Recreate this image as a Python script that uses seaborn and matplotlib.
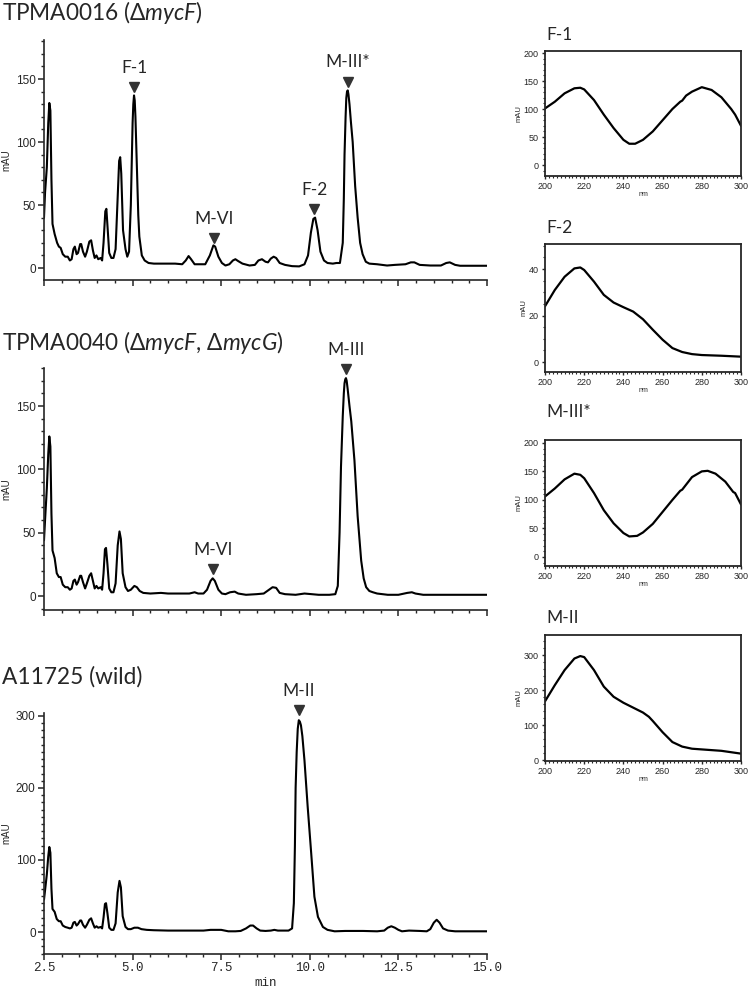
import numpy as np
import pandas as pd
import matplotlib
matplotlib.use("Agg")
import matplotlib.pyplot as plt
from matplotlib.ticker import MultipleLocator
import seaborn as sns

sns.set_style("ticks")
plt.rcParams['font.family'] = ['Lato', 'DejaVu Sans']
plt.rcParams['mathtext.fontset'] = 'custom'
plt.rcParams['mathtext.rm'] = 'Lato'
plt.rcParams['mathtext.it'] = 'Lato:italic'

# ---------------- chromatogram data (retention time [min], absorbance [mAU]) ----------------
t1 = [2.50, 2.53, 2.58, 2.62, 2.65, 2.68, 2.71, 2.74, 2.80, 2.87, 2.92, 2.97, 3.03, 3.10, 3.17, 3.23,
      3.28, 3.33, 3.37, 3.42, 3.46, 3.52, 3.55, 3.60, 3.66, 3.71, 3.78, 3.83, 3.88, 3.93, 3.98, 4.03,
      4.10, 4.14, 4.18, 4.23, 4.26, 4.30, 4.34, 4.40, 4.46, 4.52, 4.57, 4.62, 4.65, 4.68, 4.73, 4.80,
      4.85, 4.90, 4.95, 4.98, 5.00, 5.02, 5.04, 5.06, 5.08, 5.10, 5.13, 5.16, 5.19, 5.26, 5.34, 5.45,
      5.60, 5.90, 6.20, 6.40, 6.50, 6.58, 6.65, 6.75, 6.90, 7.05, 7.18, 7.28, 7.33, 7.42, 7.52, 7.62,
      7.73, 7.83, 7.90, 7.98, 8.10, 8.30, 8.45, 8.55, 8.65, 8.75, 8.82, 8.90, 8.98, 9.05, 9.15, 9.30,
      9.50, 9.70, 9.85, 9.95, 10.03, 10.10, 10.15, 10.22, 10.30, 10.40, 10.50, 10.65, 10.75, 10.85,
      10.93, 10.96, 10.98, 11.01, 11.03, 11.05, 11.07, 11.09, 11.12, 11.16, 11.21, 11.28, 11.35, 11.42,
      11.49, 11.58, 11.68, 11.90, 12.18, 12.40, 12.70, 12.85, 12.95, 13.10, 13.40, 13.70, 13.85, 13.95,
      14.10, 14.24, 14.60, 15.00]
a1 = [40, 60, 80, 115, 131, 125, 70, 35, 27, 20, 17, 16, 11, 9, 9, 6,
      7, 15, 17, 11, 12, 19, 19, 13, 9, 13, 21, 22, 14, 8, 10, 7,
      8, 6, 20, 45, 47, 30, 12, 8, 8, 15, 50, 85, 88, 75, 30, 15,
      9, 13, 50, 90, 115, 130, 137, 133, 120, 100, 70, 42, 25, 10, 6, 4,
      3.5, 3.5, 3.5, 3, 6, 9.5, 7, 3, 3, 3, 10, 18, 17, 9, 4, 2,
      3, 6, 7, 5.5, 3.5, 2, 2.5, 6, 7, 5, 4.5, 7.5, 9, 8, 4, 2.5,
      1.5, 1.3, 3, 10, 28, 39, 40, 30, 13, 6, 4, 3.5, 4, 4,
      20, 55, 90, 120, 135, 140, 141, 138, 130, 116, 100, 65, 40, 20,
      11, 5, 3.5, 3, 2, 2.5, 3, 4.5, 4.5, 2.5, 2, 2, 4, 4.5,
      2.5, 1.8, 1.8, 1.8]

t2 = [2.50, 2.53, 2.58, 2.62, 2.65, 2.68, 2.71, 2.74, 2.80, 2.86, 2.92, 2.97, 3.03, 3.10, 3.17, 3.23,
      3.28, 3.33, 3.37, 3.42, 3.46, 3.52, 3.55, 3.60, 3.66, 3.71, 3.78, 3.83, 3.88, 3.93, 3.98, 4.03,
      4.10, 4.14, 4.18, 4.22, 4.25, 4.29, 4.34, 4.40, 4.46, 4.52, 4.58, 4.63, 4.67, 4.72, 4.80, 4.87,
      4.95, 5.05, 5.12, 5.20, 5.30, 5.50, 5.80, 6.00, 6.30, 6.60, 6.75, 6.85, 7.00, 7.10, 7.20, 7.26,
      7.32, 7.42, 7.52, 7.62, 7.75, 7.88, 7.98, 8.20, 8.50, 8.70, 8.85, 8.95, 9.05, 9.15, 9.30, 9.60,
      9.85, 10.05, 10.25, 10.55, 10.72, 10.79, 10.84, 10.88, 10.93, 10.96, 10.98, 11.00, 11.02, 11.04,
      11.07, 11.12, 11.17, 11.26, 11.35, 11.45, 11.52, 11.59, 11.68, 11.78, 11.90, 12.20, 12.50, 12.75,
      12.88, 12.98, 13.20, 15.00]
a2 = [44, 60, 85, 112, 126, 118, 65, 36, 30, 18, 15, 15, 9, 7, 7, 5,
      6, 12, 13, 9, 11, 16, 16, 11, 6, 10, 16, 18, 12, 6, 8, 6,
      7, 5, 18, 37, 38, 25, 6, 3, 3, 10, 40, 51, 45, 18, 7, 4,
      5, 8, 7, 4, 2.5, 2, 2.5, 2, 2, 2, 3, 2, 2, 5, 12, 14,
      12, 5, 2, 1.5, 3, 3.5, 2, 1, 1.5, 2, 5, 7, 6.5, 2.5, 1.5, 1,
      2, 1.5, 1, 1, 1.5, 8, 50, 102, 142, 160, 168, 171, 172, 170,
      163, 150, 138, 107, 63, 28, 14, 7, 4, 3, 2, 1, 1, 2.5,
      3, 2, 1, 1]

t3 = [2.50, 2.53, 2.58, 2.62, 2.65, 2.68, 2.71, 2.74, 2.80, 2.86, 2.92, 2.97, 3.03, 3.10, 3.17, 3.23,
      3.28, 3.33, 3.37, 3.42, 3.46, 3.52, 3.55, 3.60, 3.66, 3.71, 3.78, 3.83, 3.88, 3.93, 3.98, 4.03,
      4.10, 4.14, 4.18, 4.22, 4.25, 4.29, 4.34, 4.40, 4.46, 4.52, 4.58, 4.63, 4.67, 4.72, 4.80, 4.87,
      4.95, 5.05, 5.15, 5.25, 5.40, 5.60, 6.00, 6.50, 7.00, 7.20, 7.50, 7.70, 7.90, 8.05, 8.20, 8.32,
      8.40, 8.50, 8.60, 8.75, 8.90, 9.00, 9.10, 9.20, 9.40, 9.50, 9.55, 9.58, 9.60, 9.63, 9.66, 9.69,
      9.72, 9.75, 9.79, 9.85, 9.94, 10.04, 10.13, 10.23, 10.37, 10.50, 10.70, 11.00, 11.50, 11.90,
      12.10, 12.20, 12.30, 12.40, 12.50, 12.60, 12.80, 13.10, 13.30, 13.40, 13.50, 13.58, 13.66, 13.76,
      13.90, 14.10, 15.00]
a3 = [45, 58, 80, 105, 118, 110, 60, 32, 28, 18, 15, 15, 9, 7, 6, 5,
      6, 13, 14, 9, 11, 16, 16, 10, 6, 10, 17, 19, 12, 6, 8, 6,
      7, 5, 20, 39, 40, 26, 6, 3, 3, 12, 55, 71, 62, 22, 7, 4,
      4, 6, 6, 4, 3, 2.5, 2, 2, 2, 3, 3, 1, 1, 1.5, 5, 9,
      9, 5, 2, 1.5, 2, 3, 2, 2, 2, 5, 40, 120, 200, 250, 282, 294,
      292, 287, 272, 238, 174, 109, 49, 21, 7, 3, 1, 1.5, 1.5, 1,
      2, 6, 8, 6, 3, 1, 2, 1.5, 1, 4, 13, 17, 13, 5,
      2, 1, 1]

# ---------------- UV spectra data (wavelength [nm], absorbance [mAU]) ----------------
wl_f1 = [200, 205, 210, 215, 218, 220, 225, 230, 235, 240, 243, 246, 250, 255, 260, 265, 269, 270,
         272, 275, 280, 285, 290, 295, 297, 300]
ab_f1 = [101, 113, 128, 137, 138, 135, 116, 90, 66, 45, 38, 38, 45, 60, 80, 100, 113, 115,
         124, 131, 139, 134, 121, 100, 90, 70]
wl_f2 = [200, 205, 210, 215, 218, 220, 225, 230, 235, 240, 245, 250, 255, 260, 265, 270, 275, 280,
         290, 300]
ab_f2 = [24, 31, 36.7, 40.3, 40.7, 39.6, 34.6, 28.9, 25.6, 23.6, 21.7, 18.4, 13.9, 9.6, 6, 4.3, 3.4, 3,
         2.7, 2.3]
wl_m3 = [200, 205, 210, 215, 218, 220, 225, 230, 235, 240, 243, 247, 250, 255, 260, 265, 269, 270,
         275, 280, 283, 287, 292, 296, 297, 300]
ab_m3 = [106, 120, 136, 146, 144, 138, 112, 82, 59, 42, 36, 37, 43, 58, 79, 100, 116, 118,
         140, 150, 151, 146, 132, 114, 112, 92]
wl_m2 = [200, 205, 210, 215, 218, 220, 225, 230, 235, 240, 245, 250, 253, 255, 260, 265, 270, 275,
         280, 290, 300]
ab_m2 = [168, 214, 257, 290, 297, 294, 257, 210, 181, 164, 150, 136, 124, 112, 80, 52, 39, 33,
         31, 27, 19]

titles = ["TPMA0016 (Δ$\\mathit{mycF}$)",
          "TPMA0040 (Δ$\\mathit{mycF}$, Δ$\\mathit{mycG}$)",
          "A11725 (wild)"]
peak_names = [["F-1", "M-VI", "F-2", "M-III*"], ["M-VI", "M-III"], ["M-II"]]
peak_times = [[5.05, 7.30, 10.12, 11.07], [7.26, 11.01], [9.69]]
peak_marks = [[144, 24, 47, 148], [21, 179], [308]]
spec_titles = ["F-1", "F-2", "M-III*", "M-II"]

# ---------------- figure ----------------
W, H = 750, 990
fig = plt.figure(figsize=(W / 100, H / 100), dpi=100)


def px_axes(l, t, r, b):
    return fig.add_axes([l / W, 1 - b / H, (r - l) / W, (b - t) / H])


chrom_boxes = [(44, 40, 487, 280), (44, 368, 487, 610), (44, 713, 487, 954)]
chrom_ylims = [(-9.5, 181), (-11, 180), (-30.5, 304)]
chrom_title_y = [13, 343, 677]
chrom_data = [(t1, a1), (t2, a2), (t3, a3)]
ytick_major = [50, 50, 100]

tick_font = ['Liberation Sans Narrow', 'Liberation Sans', 'DejaVu Sans']
mono_font = ['Liberation Mono', 'DejaVu Sans Mono']

for i in range(3):
    ax = px_axes(*chrom_boxes[i])
    tt, aa = chrom_data[i]
    df = pd.DataFrame({"min": tt, "mAU": aa})
    sns.lineplot(data=df, x="min", y="mAU", ax=ax, color="black", lw=1.5,
                 estimator=None, sort=False)
    ax.set_xlim(2.5, 15.0)
    ax.set_ylim(*chrom_ylims[i])
    sns.despine(ax=ax)
    for s in ("left", "bottom"):
        ax.spines[s].set_linewidth(1.2)
    ax.xaxis.set_major_locator(MultipleLocator(2.5))
    ax.xaxis.set_minor_locator(MultipleLocator(0.5))
    ax.yaxis.set_minor_locator(MultipleLocator(10))
    ax.set_yticks(np.arange(0, chrom_ylims[i][1], ytick_major[i]))
    ax.tick_params(axis="both", which="major", direction="out", length=4, width=1.1, pad=2)
    ax.tick_params(axis="both", which="minor", direction="out", length=2.5, width=1.0)
    for lab in ax.get_yticklabels():
        lab.set_family(tick_font)
        lab.set_fontsize(8.5)
    ax.set_ylabel("mAU", family=tick_font, fontsize=7, labelpad=3)
    if i < 2:
        ax.set_xticklabels([])
        ax.set_xlabel("")
    else:
        ax.set_xticks([2.5, 5.0, 7.5, 10.0, 12.5, 15.0])
        ax.set_xticklabels(["2.5", "5.0", "7.5", "10.0", "12.5", "15.0"], family=mono_font, fontsize=9)
        ax.set_xlabel("min", family=mono_font, fontsize=9, labelpad=2)
    fig.text(2 / W, 1 - chrom_title_y[i] / H, titles[i], fontsize=16.3, va="center", ha="left")
    for name, tx, my in zip(peak_names[i], peak_times[i], peak_marks[i]):
        ax.plot([tx], [my], marker="v", color="#333333", markersize=7, clip_on=False, ls="none")
        ax.annotate(name, (tx, my), xytext=(0, 8), textcoords="offset points",
                    ha="center", va="bottom", fontsize=12.5, annotation_clip=False)

# spectra panels
spec_boxes = [(545, 51, 741, 176), (545, 244, 741, 372), (545, 440, 741, 566), (545, 635, 741, 761)]
spec_ylims = [(-19.6, 203.6), (-4.3, 50.8), (-15.8, 205), (-2, 357)]
spec_yticks = [[0, 50, 100, 150, 200], [0, 20, 40], [0, 50, 100, 150, 200], [0, 100, 200, 300]]
spec_yminor = [10, 5, 10, 20]
spec_data = [(wl_f1, ab_f1), (wl_f2, ab_f2), (wl_m3, ab_m3), (wl_m2, ab_m2)]
spec_title_y = [35, 228, 412, 618]

for j in range(4):
    ax = px_axes(*spec_boxes[j])
    ww, aa = spec_data[j]
    df = pd.DataFrame({"nm": ww, "mAU": aa})
    sns.lineplot(data=df, x="nm", y="mAU", ax=ax, color="black", lw=1.6, estimator=None)
    ax.set_xlim(200, 300)
    ax.set_ylim(*spec_ylims[j])
    for s in ax.spines.values():
        s.set_linewidth(1.3)
    ax.set_xticks([200, 220, 240, 260, 280, 300])
    ax.xaxis.set_minor_locator(MultipleLocator(2))
    ax.set_yticks(spec_yticks[j])
    ax.yaxis.set_minor_locator(MultipleLocator(spec_yminor[j]))
    ax.tick_params(axis="both", which="major", direction="out", length=2.5, width=1.0, pad=2,
                   labelsize=6.5)
    ax.tick_params(axis="both", which="minor", direction="out", length=1.5, width=0.8)
    for lab in ax.get_xticklabels() + ax.get_yticklabels():
        lab.set_family(['Liberation Sans', 'DejaVu Sans'])
    ax.set_xlabel("nm", fontsize=5, family=['Liberation Sans', 'DejaVu Sans'], labelpad=0)
    ax.set_ylabel("mAU", fontsize=5.5, family=['Liberation Sans', 'DejaVu Sans'], labelpad=1)
    fig.text(546 / W, 1 - spec_title_y[j] / H, spec_titles[j], fontsize=12.5, va="center", ha="left")

fig.savefig("out.png", dpi=100)
